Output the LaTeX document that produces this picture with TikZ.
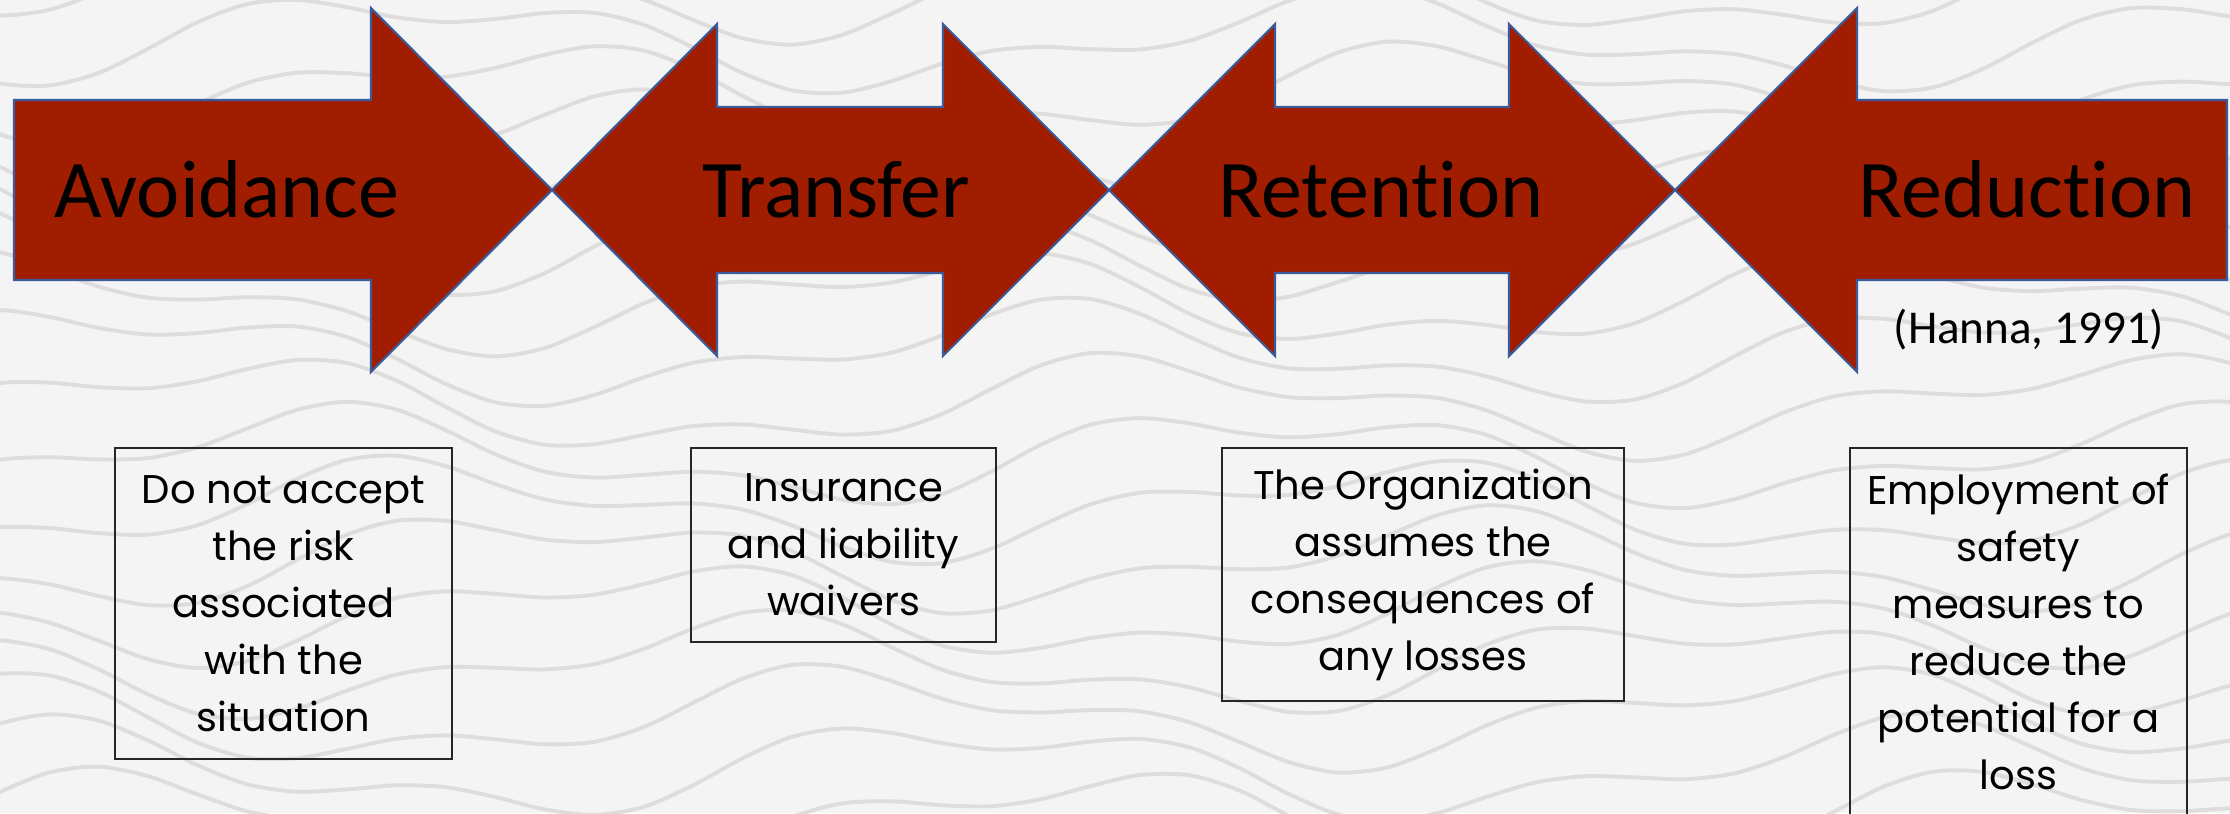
\documentclass[tikz,border=0pt]{standalone}
\usepackage{fontspec}
\setmainfont{Carlito}[Ligatures=NoCommon]
\newfontfamily\boxfont{Poppins}
\usepackage{tikz}
\usetikzlibrary{positioning}
\usepackage{xcolor}
\definecolor{riskred}{HTML}{A11D00}
\definecolor{edgeblue}{HTML}{3B5B9B}
\definecolor{paper}{HTML}{F4F4F4}
\definecolor{topoline}{HTML}{DEDCDC}
\tikzset{
  topo/.style    ={draw=topoline, line width=1.1pt},
  riskarrow/.style={fill=riskred, draw=edgeblue, line width=0.6pt,
                   line join=miter},
  arlbl/.style   ={anchor=base, font=\fontsize{23.3}{28}\selectfont},
  cite/.style    ={anchor=base, font=\fontsize{13.4}{16}\selectfont},
  descbox/.style ={draw=black!85, line width=0.6pt, anchor=north,
                   align=center, inner sep=0pt,
                   font=\boxfont\fontsize{11.4}{16.2}\selectfont},
}

\begin{document}
\begin{tikzpicture}
  \useasboundingbox (0,0) rectangle (22.30,8.13);
  \fill[paper] (0,0) rectangle (22.30,8.13);
  % contour texture
  \begin{scope}
  \clip (0,0) rectangle (22.30,8.13);
  \foreach \k in {0,...,17}
    \draw[topo] plot[smooth, domain=-0.5:22.8, samples=48]
      (\x, {\k*0.52 - 0.6 + 0.38*sin(38*\x + 41*\k) + 0.18*sin(97*\x + 13*\k)});
  \end{scope}

  % the four arrows
  \draw[riskarrow] (0.14,5.33) -- (0.14,7.13) -- (3.71,7.13) -- (3.71,8.05)
    -- (5.52,6.23) -- (3.71,4.41) -- (3.71,5.33) -- cycle;
  \draw[riskarrow] (5.52,6.23) -- (7.17,7.89) -- (7.17,7.06) -- (9.43,7.06)
    -- (9.43,7.89) -- (11.09,6.23) -- (9.43,4.57) -- (9.43,5.40)
    -- (7.17,5.40) -- (7.17,4.57) -- cycle;
  \draw[riskarrow] (11.09,6.23) -- (12.75,7.89) -- (12.75,7.06) -- (15.09,7.06)
    -- (15.09,7.89) -- (16.75,6.23) -- (15.09,4.57) -- (15.09,5.40)
    -- (12.75,5.40) -- (12.75,4.57) -- cycle;
  \draw[riskarrow] (16.75,6.23) -- (18.57,8.05) -- (18.57,7.13) -- (22.27,7.13)
    -- (22.27,5.33) -- (18.57,5.33) -- (18.57,4.41) -- cycle;

  \node[arlbl] (avoid) at (2.27,5.96) {Avoidance};
  \node[arlbl] (transfer) at (8.36,5.96) {Transfer};
  \node[arlbl] (retain) at (13.81,5.96) {Retention};
  \node[arlbl] (reduce) at (20.27,5.96) {Reduction};
  \node[cite] (hanna) at (20.29,4.70) {(Hanna, 1991)};

  \node[descbox, minimum width=3.37cm, minimum height=3.11cm] (avoidbox)
    at (2.835,3.66) {Do not accept\\ the risk\\ associated\\ with the\\ situation};
  \node[descbox, minimum width=3.05cm, minimum height=1.94cm] (transferbox)
    at (8.435,3.66) {Insurance\\ and liability\\ waivers};
  \node[descbox, minimum width=4.02cm, minimum height=2.53cm] (retainbox)
    at (14.23,3.66) {The Organization\\ assumes the\\ consequences of\\ any losses};
  \node[descbox, minimum width=3.37cm, minimum height=3.68cm] (reducebox)
    at (20.185,3.66) {Employment of\\ safety\\ measures to\\ reduce the\\
      potential for a\\ loss};
\end{tikzpicture}
\end{document}
